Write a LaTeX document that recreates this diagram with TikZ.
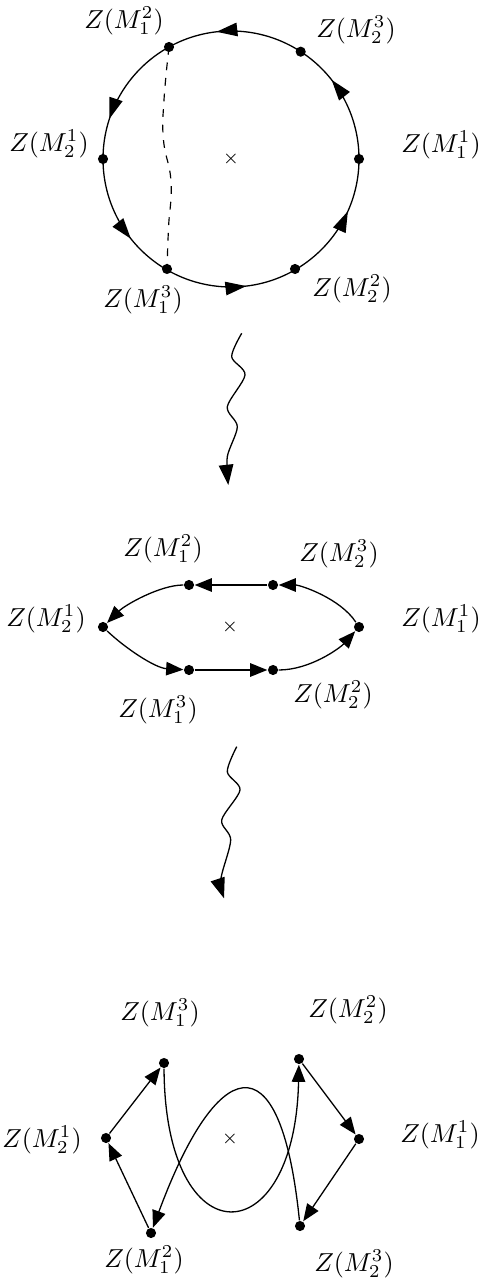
\documentclass[tikz,border=0pt]{standalone}
\usetikzlibrary{arrows.meta,decorations.markings}
\begin{document}
\begin{tikzpicture}[x=0.385pt,y=-0.385pt,line width=0.5pt,
  dot/.style={circle,fill,inner sep=0pt,minimum size=3.9pt},
  lbl/.style={inner sep=0pt},
  crossmark/.style={font=\scriptsize,inner sep=0pt},
  arr/.style={-{Triangle[length=6.6pt,width=5.2pt]}},
  wavearr/.style={-{Triangle[length=7.8pt,width=5.6pt]}},
  circarrows/.style={postaction={decorate},decoration={markings,
     mark=at position 0.106 with {\arrow{Triangle[length=8pt,width=5.2pt]}},
     mark=at position 0.268 with {\arrow{Triangle[length=8pt,width=5.2pt]}},
     mark=at position 0.449 with {\arrow{Triangle[length=8pt,width=5.2pt]}},
     mark=at position 0.607 with {\arrow{Triangle[length=8pt,width=5.2pt]}},
     mark=at position 0.769 with {\arrow{Triangle[length=8pt,width=5.2pt]}},
     mark=at position 0.933 with {\arrow{Triangle[length=8pt,width=5.2pt]}}}}]
\useasboundingbox (0,0) rectangle (482,1278);

% ---------- top: circle ----------
\node[crossmark] (x1) at (231,159) {$\times$};
\draw[circarrows] (x1.center) circle[radius=49.28pt];
\node[dot] (a11) at (359,159) {};
\node[dot] (a23) at (300.7,51.7) {};
\node[dot] (a12) at (169,47) {};
\node[dot] (a21) at (103,159) {};
\node[dot] (a13) at (167,269) {};
\node[dot] (a22) at (295,269) {};
\draw[dashed,line width=0.45pt] plot[smooth,tension=0.8] coordinates {(a12) (164,100) (163.5,140) (171,182) (168.5,228) (a13)};
\node[lbl] (la12) at (124,21) {$Z(M_1^2)$};
\node[lbl] (la23) at (356,30) {$Z(M_2^3)$};
\node[lbl] (la21) at (49,144) {$Z(M_2^1)$};
\node[lbl] (la11) at (441,145) {$Z(M_1^1)$};
\node[lbl] (la13) at (143,300) {$Z(M_1^3)$};
\node[lbl] (la22) at (352,289) {$Z(M_2^2)$};

% ---------- first wavy arrow ----------
\coordinate (w1s) at (241.7,333.3);
\coordinate (w1e) at (228.3,485);
\draw[wavearr] plot[smooth] coordinates {(w1s) (231.7,356.7) (245,375) (227.3,406.7) (237.3,426.7) (227.3,456.7) (w1e)};

% ---------- middle: flattened loop ----------
\node[crossmark] (x2) at (230,627) {$\times$};
\node[dot] (b11) at (359,627) {};
\node[dot] (b23) at (273,585) {};
\node[dot] (b12) at (189,585) {};
\node[dot] (b21) at (103,627) {};
\node[dot] (b13) at (189,670) {};
\node[dot] (b22) at (273,670) {};
\draw[arr] (b11) .. controls (340,598) and (300,585) .. (b23);
\draw[arr] (b23) -- (b12);
\draw[arr] (b12) .. controls (160,585) and (125,605) .. (b21);
\draw[arr] (b21) .. controls (125,648) and (155,668) .. (b13);
\draw[arr] (b13) -- (b22);
\draw[arr] (b22) .. controls (310,670) and (340,648) .. (b11);
\node[lbl] (lb12) at (163,549) {$Z(M_1^2)$};
\node[lbl] (lb23) at (339,554) {$Z(M_2^3)$};
\node[lbl] (lb21) at (46,619) {$Z(M_2^1)$};
\node[lbl] (lb11) at (441,619) {$Z(M_1^1)$};
\node[lbl] (lb13) at (158,710) {$Z(M_1^3)$};
\node[lbl] (lb22) at (333,695) {$Z(M_2^2)$};

% ---------- second wavy arrow ----------
\coordinate (w2s) at (236.7,746.7);
\coordinate (w2e) at (224,898.3);
\draw[wavearr] plot[smooth] coordinates {(w2s) (227.3,771.7) (240,790) (221.7,820) (230.7,840) (221,878.3) (w2e)};

% ---------- bottom: twisted loop ----------
\node[crossmark] (x3) at (230,1139) {$\times$};
\node[dot] (c13) at (164,1063) {};
\node[dot] (c22) at (299,1059) {};
\node[dot] (c21) at (106,1138) {};
\node[dot] (c11) at (359,1139) {};
\node[dot] (c12) at (151,1233) {};
\node[dot] (c23) at (300,1226) {};
\draw[arr] (c21) -- (c13);
\draw[arr] (c12) -- (c21);
\draw[arr] (c22) -- (c11);
\draw[arr] (c11) -- (c23);
\draw[arr] (c13) .. controls (165,1260) and (295,1255) .. (c22);
\draw[arr] (c23) .. controls (280,1030) and (215,1060) .. (c12);
\node[lbl] (lc13) at (160,1013) {$Z(M_1^3)$};
\node[lbl] (lc22) at (348,1010) {$Z(M_2^2)$};
\node[lbl] (lc21) at (42,1140) {$Z(M_2^1)$};
\node[lbl] (lc11) at (440,1135) {$Z(M_1^1)$};
\node[lbl] (lc12) at (144,1260) {$Z(M_1^2)$};
\node[lbl] (lc23) at (354,1264) {$Z(M_2^3)$};
\end{tikzpicture}
\end{document}
